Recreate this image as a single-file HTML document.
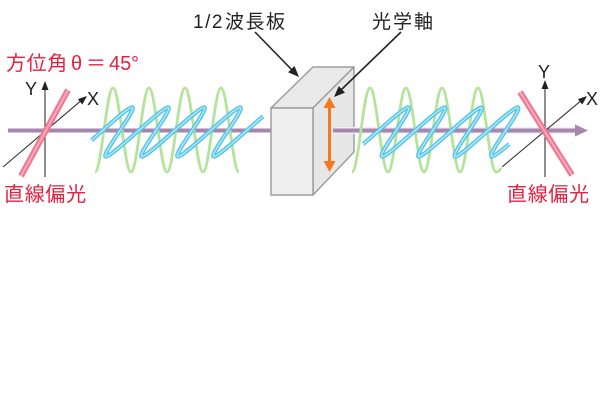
<!DOCTYPE html>
<html>
<head>
<meta charset="utf-8">
<style>
  html, body { margin: 0; padding: 0; background: #ffffff; }
  body { width: 601px; height: 400px; overflow: hidden; }
  svg { display: block; }
  .jp { font-family: "Liberation Sans", "Noto Sans CJK JP", sans-serif; }
</style>
</head>
<body>
<svg width="601" height="400" viewBox="0 0 601 400" xmlns="http://www.w3.org/2000/svg">
  <rect x="0" y="0" width="601" height="400" fill="#ffffff"/>

  <!-- ===== LEFT SECTION ===== -->
  <line x1="8" y1="130.5" x2="272" y2="130.5" stroke="#a586ad" stroke-width="4"/>

  <!-- left axes -->
  <line x1="45" y1="177" x2="45" y2="88" stroke="#333" stroke-width="1.1"/>
  <polygon points="45,81 41.5,90 48.5,90" fill="#222"/>
  <line x1="3" y1="167" x2="81" y2="100.7" stroke="#333" stroke-width="1.1"/>
  <polygon points="87,96 82.35,104.5 77.85,99.1" fill="#222"/>

  <!-- left green wave -->
  <path d="M95,172 C101.5,172 106.5,88 113,88 S124.5,172 131,172 S142.5,88 149,88 S160.5,172 167,172 S178.5,88 185,88 S196.5,172 203,172 S214.5,88 221,88 S232.5,172 239,172"
        fill="none" stroke="#b4e49c" stroke-width="2.8"/>

  <!-- left blue wave -->
  <path id="bl" d="M91.48,140.38 C108.37,125.65 127.6,107.5 132,107.5 C138.54,107.5 99.46,156.5 106,156.5 S161.46,107.5 168,107.5 S135.46,156.5 142,156.5 S197.46,107.5 204,107.5 S171.46,156.5 178,156.5 S233.46,107.5 240,107.5 S207.46,156.5 214,156.5 C218.7,156.5 246.06,130.46 263.15,116.25"
        fill="none" stroke="#52c3e9" stroke-width="4.2" stroke-linejoin="round"/>
  <path d="M91.48,140.38 C108.37,125.65 127.6,107.5 132,107.5 C138.54,107.5 99.46,156.5 106,156.5 S161.46,107.5 168,107.5 S135.46,156.5 142,156.5 S197.46,107.5 204,107.5 S171.46,156.5 178,156.5 S233.46,107.5 240,107.5 S207.46,156.5 214,156.5 C218.7,156.5 246.06,130.46 263.15,116.25"
        fill="none" stroke="#b2e6f6" stroke-width="1.5" stroke-linejoin="round"/>

  <!-- left red rod -->
  <line x1="68" y1="90" x2="21" y2="176" stroke="#ef7690" stroke-width="6"/>
  <line x1="68" y1="90" x2="21" y2="176" stroke="#f8acbb" stroke-width="2"/>

  <!-- ===== HALF-WAVE PLATE ===== -->
  <polygon points="271,108 313,67 354,67 313,108" fill="#e9eae9" stroke="#9e9e9e" stroke-width="1.5" stroke-linejoin="round"/>
  <polygon points="313,108 354,67 354,152 313,195" fill="#e6e7e6" stroke="#9e9e9e" stroke-width="1.5" stroke-linejoin="round"/>
  <rect x="271" y="108" width="42" height="87" fill="#eeefee" stroke="#9e9e9e" stroke-width="1.5"/>

  <!-- orange optic axis arrow -->
  <line x1="329.5" y1="106" x2="329.5" y2="163" stroke="#f5791f" stroke-width="3"/>
  <polygon points="329.5,97 323.5,108 335.5,108" fill="#f5791f"/>
  <polygon points="329.5,172 323.5,161 335.5,161" fill="#f5791f"/>

  <!-- ===== RIGHT SECTION ===== -->
  <line x1="333" y1="130.5" x2="577" y2="130.5" stroke="#f3eef4" stroke-width="7"/>
  <line x1="333" y1="130.5" x2="578" y2="130.5" stroke="#a586ad" stroke-width="4"/>
  <polygon points="588,130.5 575,124.5 575,136.5" fill="#a586ad"/>

  <!-- right green wave -->
  <path d="M352,172 C358.5,172 363.5,88 370,88 S381.5,172 388,172 S399.5,88 406,88 S417.5,172 424,172 S435.5,88 442,88 S453.5,172 460,172 S471.5,88 478,88 S489.5,172 496,172 C498,172 500,170 501,168"
        fill="none" stroke="#b4e49c" stroke-width="2.8"/>

  <!-- right blue wave -->
  <path d="M363.13,144.1 C380.47,129.28 403.7,107.5 408.1,107.5 C414.73,107.5 375.72,156.5 382.35,156.5 S437.97,107.5 444.6,107.5 S412.22,156.5 418.85,156.5 S474.47,107.5 481.1,107.5 S448.72,156.5 455.35,156.5 S510.97,107.5 517.6,107.5 S485.22,156.5 491.85,156.5 C494.05,156.5 500.39,151.58 509.13,144.1"
        fill="none" stroke="#52c3e9" stroke-width="4.2" stroke-linejoin="round"/>
  <path d="M363.13,144.1 C380.47,129.28 403.7,107.5 408.1,107.5 C414.73,107.5 375.72,156.5 382.35,156.5 S437.97,107.5 444.6,107.5 S412.22,156.5 418.85,156.5 S474.47,107.5 481.1,107.5 S448.72,156.5 455.35,156.5 S510.97,107.5 517.6,107.5 S485.22,156.5 491.85,156.5 C494.05,156.5 500.39,151.58 509.13,144.1"
        fill="none" stroke="#b2e6f6" stroke-width="1.5" stroke-linejoin="round"/>

  <!-- right axes -->
  <line x1="545" y1="177" x2="545" y2="87" stroke="#333" stroke-width="1.1"/>
  <polygon points="545,80 541.5,89 548.5,89" fill="#222"/>
  <line x1="502" y1="167" x2="581" y2="100.7" stroke="#333" stroke-width="1.1"/>
  <polygon points="587,96 582.35,104.5 577.85,99.1" fill="#222"/>

  <!-- right red rod -->
  <line x1="520" y1="92" x2="572" y2="175" stroke="#ef7690" stroke-width="6"/>
  <line x1="520" y1="92" x2="572" y2="175" stroke="#f8acbb" stroke-width="2"/>

  <!-- ===== POINTER ARROWS ===== -->
  <line x1="255" y1="32" x2="292" y2="70" stroke="#222" stroke-width="1.6"/>
  <polygon points="299,77 294.5,65.95 288.1,72.25" fill="#222"/>
  <line x1="401" y1="32" x2="341" y2="90" stroke="#222" stroke-width="1.6"/>
  <polygon points="334,97 345.03,92.57 338.77,86.11" fill="#222"/>

  <!-- ===== TEXT ===== -->
  <g class="jp">
    <text y="28" font-size="19" fill="#222"><tspan x="193" letter-spacing="1.5">1/2</tspan><tspan x="225" letter-spacing="1.5">波長板</tspan></text>
    <text x="372" y="28" font-size="19" fill="#222" letter-spacing="2">光学軸</text>

    <text y="70" font-size="20" fill="#e6203f"><tspan x="6" letter-spacing="0.6">方位角</tspan><tspan x="71">θ</tspan><tspan x="86">＝</tspan><tspan x="109">45</tspan><tspan x="131">°</tspan></text>

    <text x="4" y="201" font-size="20" fill="#e6203f" letter-spacing="0.7">直線偏光</text>
    <text x="507" y="201" font-size="20" fill="#e6203f" letter-spacing="0.7">直線偏光</text>

    <text x="31" y="95" font-size="18" fill="#222" text-anchor="middle">Y</text>
    <text x="87" y="105" font-size="18" fill="#222">X</text>
    <text x="544" y="78" font-size="18" fill="#222" text-anchor="middle">Y</text>
    <text x="586" y="105" font-size="18" fill="#222">X</text>
  </g>
</svg>
</body>
</html>
